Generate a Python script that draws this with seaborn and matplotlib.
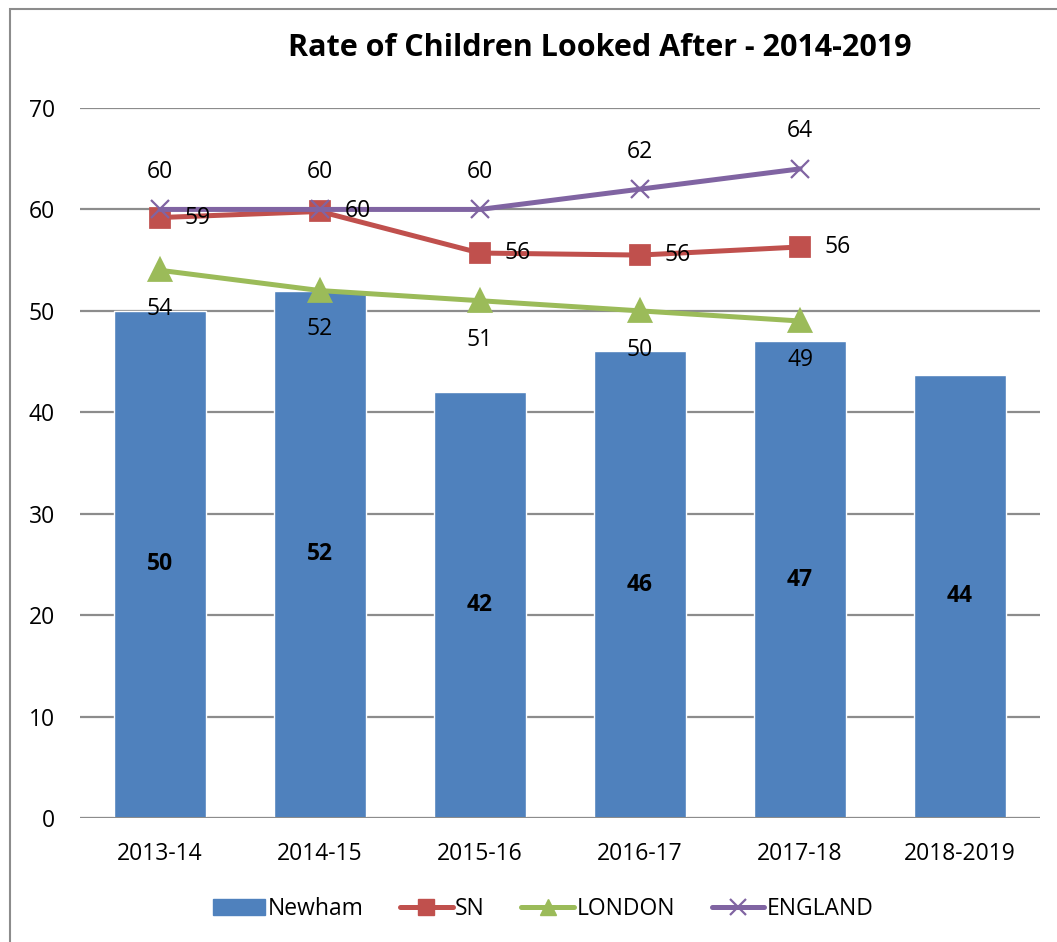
import matplotlib
matplotlib.use("Agg")
import matplotlib.pyplot as plt
import matplotlib.patches as mpatches
from matplotlib.lines import Line2D
import seaborn as sns
import numpy as np
import pandas as pd

categories = ["2013-14", "2014-15", "2015-16", "2016-17", "2017-18", "2018-2019"]
newham = [50, 52, 42, 46, 47, 43.7]
sn = [59.2, 59.8, 55.7, 55.5, 56.3]
london = [54, 52, 51, 50, 49]
england = [60, 60, 60, 62, 64]
newham_labels = ["50", "52", "42", "46", "47", "44"]
sn_labels = ["59", "60", "56", "56", "56"]
london_labels = ["54", "52", "51", "50", "49"]
england_labels = ["60", "60", "60", "62", "64"]
yticks = [0, 10, 20, 30, 40, 50, 60, 70]

C_BAR = "#4F81BD"
C_SN = "#C0504D"
C_LON = "#9BBB59"
C_ENG = "#8064A2"

sns.set_theme(style="white")
plt.rcParams['font.family'] = ['Open Sans', 'DejaVu Sans']
plt.rcParams['text.color'] = 'black'
plt.rcParams['xtick.color'] = 'black'
plt.rcParams['ytick.color'] = 'black'

fig = plt.figure(figsize=(10.57, 9.42), dpi=100)
ax = fig.add_axes([80/1057, 1-818/942, (1040-80)/1057, (818-108)/942])

# figure border
fig.add_artist(mpatches.Rectangle((10/1057, -0.01), 1.2, 1-9/942+0.01,
                                  transform=fig.transFigure, fill=False,
                                  edgecolor="#8c8c8c", linewidth=1.5))

df = pd.DataFrame({"cat": categories, "val": newham})
sns.barplot(data=df, x="cat", y="val", order=categories, color=C_BAR,
            saturation=1, width=0.57, ax=ax, zorder=2)

def line(vals, color, marker, ms):
    d = pd.DataFrame({"cat": categories[:len(vals)], "val": vals})
    sns.pointplot(data=d, x="cat", y="val", order=categories, color=color,
                  markers=marker, linestyles="-", errorbar=None, ax=ax,
                  markersize=ms, linewidth=3.6, zorder=4)

line(sn, C_SN, "s", 13)
line(london, C_LON, "^", 14)
line(england, C_ENG, "x", 13)
for ln in ax.lines[-1:]:
    ln.set_markeredgewidth(1.6)

fs = 16.5
for i, (v, t) in enumerate(zip(newham, newham_labels)):
    ax.text(i, v / 2, t, ha="center", va="center", fontsize=fs,
            fontweight="bold", color="black", zorder=6)
for i, (v, t) in enumerate(zip(sn, sn_labels)):
    ax.annotate(t, (i, v), xytext=(27, 0), textcoords="offset points",
                ha="center", va="center", fontsize=fs, zorder=6)
for i, (v, t) in enumerate(zip(london, london_labels)):
    ax.annotate(t, (i, v), xytext=(0, -28), textcoords="offset points",
                ha="center", va="center", fontsize=fs, zorder=6)
for i, (v, t) in enumerate(zip(england, england_labels)):
    ax.annotate(t, (i, v), xytext=(0, 27), textcoords="offset points",
                ha="center", va="center", fontsize=fs, zorder=6)

ax.set_xlim(-0.5, len(categories) - 0.5)
ax.set_ylim(0, 70)
ax.set_yticks(yticks)
ax.set_yticklabels([str(y) for y in yticks], fontsize=fs)
ax.tick_params(axis="y", length=0, pad=18)
ax.tick_params(axis="x", length=0, pad=17, labelsize=fs)
ax.set_xlabel("")
ax.set_ylabel("")
for s in ax.spines.values():
    s.set_visible(False)
ax.yaxis.grid(True, color="#8c8c8c", linewidth=1.6, zorder=0)
ax.set_axisbelow(True)
ax.axhline(0, color="#8c8c8c", linewidth=2.2, zorder=3)

fig.text(600/1057, 1-48/942, "Rate of Children Looked After - 2014-2019",
         ha="center", va="center", fontsize=22, fontweight="bold")

handles = [
    mpatches.Patch(facecolor=C_BAR, edgecolor=C_BAR),
    Line2D([0], [0], color=C_SN, marker="s", markersize=12, linewidth=3.6),
    Line2D([0], [0], color=C_LON, marker="^", markersize=12, linewidth=3.6),
    Line2D([0], [0], color=C_ENG, marker="x", markersize=12, linewidth=3.6, markeredgewidth=1.6),
]
fig.legend(handles, ["Newham", "SN", "LONDON", "ENGLAND"], loc="center",
           bbox_to_anchor=(543/1057, 1-909/942), ncol=4, frameon=False,
           fontsize=fs, handlelength=2.3, handleheight=0.75, handletextpad=0.1,
           columnspacing=1.6)

fig.savefig("out.png", dpi=100)
